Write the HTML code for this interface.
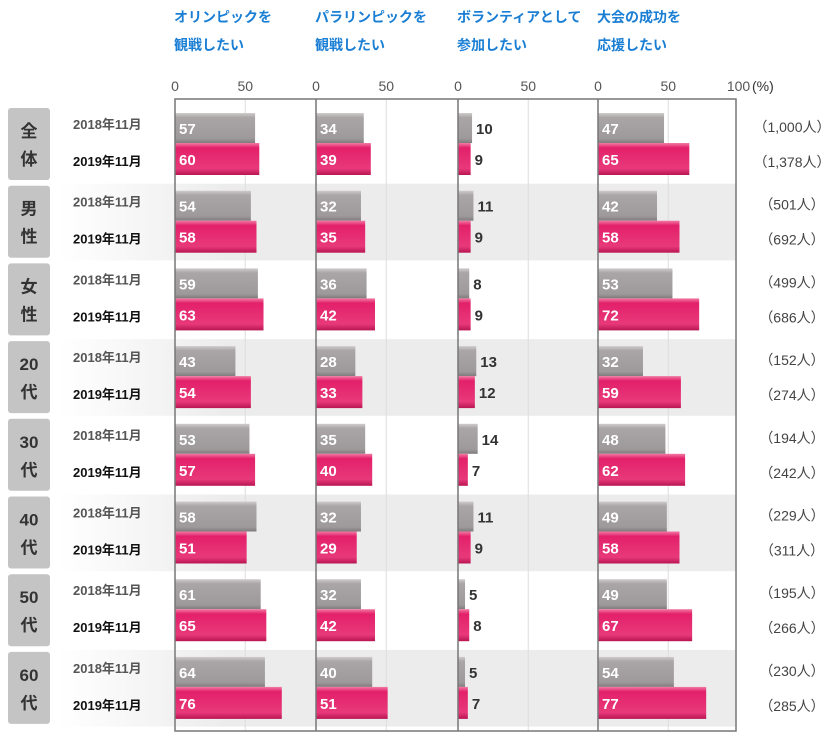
<!DOCTYPE html>
<html><head><meta charset="utf-8"><style>
body{margin:0;background:#fff;}
svg{display:block;font-family:"Liberation Sans","Noto Sans CJK JP",sans-serif;}
</style></head><body>
<svg id="c" width="840" height="745" viewBox="0 0 840 745">
<defs>
<linearGradient id="gbg" x1="0" x2="1" y1="0" y2="0"><stop offset="0" stop-color="#fff"/><stop offset="0.25" stop-color="#ececec"/><stop offset="1" stop-color="#ececec"/></linearGradient>
<linearGradient id="ggray" x1="0" x2="0" y1="0" y2="1"><stop offset="0" stop-color="#d0cccc"/><stop offset="0.15" stop-color="#aaa5a6"/><stop offset="0.85" stop-color="#9e999a"/><stop offset="1" stop-color="#7f7a7b"/></linearGradient>
<linearGradient id="gpink" x1="0" x2="0" y1="0" y2="1"><stop offset="0" stop-color="#f27aa3"/><stop offset="0.15" stop-color="#e3206a"/><stop offset="0.8" stop-color="#e8397a"/><stop offset="1" stop-color="#b81552"/></linearGradient>
</defs>
</svg>
<script>
const groups=["全体","男性","女性","20代","30代","40代","50代","60代"];
const panelTitles=[["オリンピックを","観戦したい"],["パラリンピックを","観戦したい"],["ボランティアとして","参加したい"],["大会の成功を","応援したい"]];
const v2018=[[57,54,59,43,53,58,61,64],[34,32,36,28,35,32,32,40],[10,11,8,13,14,11,5,5],[47,42,53,32,48,49,49,54]];
const v2019=[[60,58,63,54,57,51,65,76],[39,35,42,33,40,29,42,51],[9,9,9,12,7,9,8,7],[65,58,72,59,62,58,67,77]];
const n2018=["1,000","501","499","152","194","229","195","230"];
const n2019=["1,378","692","686","274","242","311","266","285"];
const ticks=[0,50,100];
const svg=document.getElementById('c');const NS="http://www.w3.org/2000/svg";
function mk(t,a,p){const e=document.createElementNS(NS,t);for(const k in a)e.setAttribute(k,a[k]);(p||svg).appendChild(e);return e;}
const px0=[175,316,458,598],scale=1.405,top0=99,bot=731,gh=77.7,g0=105;
const x=(p,v)=>px0[p]+v*scale;
const gy=i=>g0+i*gh;
groups.forEach((g,i)=>{if(i%2==1){const r=mk('rect',{x:58,y:gy(i)+1,width:678,height:gh-1,fill:'url(#gbg)'});

}});
for(let p=0;p<4;p++){const l=mk('line',{x1:x(p,50),x2:x(p,50),y1:top0,y2:bot,stroke:'#ddd','stroke-width':1});

}
panelTitles.forEach((t,p)=>{t.forEach((s,j)=>{const e=mk('text',{x:px0[p]-1,y:22+j*28,fill:'#1a7fd4','font-size':14,'font-weight':'bold'});e.textContent=s;

});
ticks.forEach(tv=>{if(tv==100&&p<3)return;const e=mk('text',{x:x(p,tv),y:91,fill:'#555','font-size':14,'text-anchor':'middle'});e.textContent=tv;

});});
const pct=mk('text',{x:752,y:91,fill:'#333','font-size':14});pct.textContent='(%)';


groups.forEach((g,i)=>{const y=gy(i);
const b=mk('rect',{x:8,y:y+3,width:42,height:72,rx:3,fill:'#c4c4c4'});


const chars=g.length==2&&!/\d/.test(g)?[g[0],g[1]]:[g.replace('代',''),'代'];
chars.forEach((c,j)=>{const e=mk('text',{x:29,y:y+32+j*28,fill:'#333','font-size':17,'font-weight':'bold','text-anchor':'middle'});e.textContent=c;

});
const a=mk('text',{x:73,y:y+24,fill:'#555','font-size':13,'font-weight':'bold'});a.textContent='2018年11月';


const c2=mk('text',{x:73,y:y+61,fill:'#111','font-size':13,'font-weight':'bold'});c2.textContent='2019年11月';


const na=mk('text',{x:792,y:y+27,fill:'#444','font-size':14,'text-anchor':'middle'});na.textContent='（'+n2018[i]+'人）';


const nb=mk('text',{x:792,y:y+62,fill:'#444','font-size':14,'text-anchor':'middle'});nb.textContent='（'+n2019[i]+'人）';


for(let p=0;p<4;p++){[[v2018,8,30,'url(#ggray)'],[v2019,38,32,'url(#gpink)']].forEach(([arr,dy,h,f])=>{const v=arr[p][i];
const r=mk('rect',{x:px0[p],y:y+dy,width:v*scale,height:h,fill:f});


const inside=v>=20;const t=mk('text',{x:inside?px0[p]+4:x(p,v)+4,y:y+dy+h/2+6,fill:inside?'#fff':'#333','font-size':15,'font-weight':'bold'});t.textContent=v;

});}
});
const fr=mk('rect',{x:175,y:top0,width:561,height:bot-top0,fill:'none',stroke:'#777','stroke-width':1.5});


for(let p=1;p<4;p++){const l=mk('line',{x1:px0[p],x2:px0[p],y1:top0,y2:bot,stroke:'#777','stroke-width':1.5});

}
</script>
</body></html>
